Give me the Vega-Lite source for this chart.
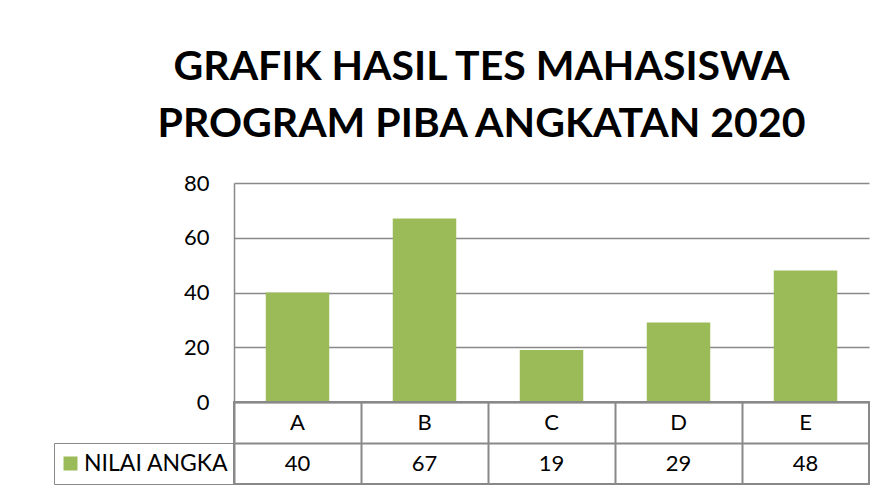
{
  "$schema": "https://vega.github.io/schema/vega-lite/v6.json",
  "autosize": {"type": "pad"},
  "padding": {"left": 53, "top": 47, "right": 0, "bottom": 0},
  "background": "white",
  "title": {
    "text": ["GRAFIK HASIL TES MAHASISWA", "PROGRAM PIBA ANGKATAN 2020"],
    "font": "Lato",
    "fontSize": 41,
    "fontWeight": "bold",
    "color": "#000000",
    "anchor": "middle",
    "frame": "group",
    "lineHeight": 57,
    "dx": -70,
    "offset": 26
  },
  "data": {
    "values": [
      {"kategori": "A", "nilai": 40, "seri": "NILAI ANGKA"},
      {"kategori": "B", "nilai": 67, "seri": "NILAI ANGKA"},
      {"kategori": "C", "nilai": 19, "seri": "NILAI ANGKA"},
      {"kategori": "D", "nilai": 29, "seri": "NILAI ANGKA"},
      {"kategori": "E", "nilai": 48, "seri": "NILAI ANGKA"}
    ]
  },
  "spacing": 0,
  "bounds": "flush",
  "resolve": {"scale": {"color": "independent"}, "legend": {"color": "independent"}},
  "config": {
    "view": {"stroke": null},
    "font": "Lato",
    "axis": {"labelFont": "Lato", "labelColor": "#000000", "labelFontSize": 22}
  },
  "vconcat": [
    {
      "width": 635,
      "height": 219,
      "mark": {"type": "bar"},
      "encoding": {
        "x": {
          "field": "kategori",
          "type": "nominal",
          "scale": {"paddingInner": 0.5, "paddingOuter": 0.25},
          "axis": null
        },
        "y": {
          "field": "nilai",
          "type": "quantitative",
          "scale": {"domain": [0, 80], "nice": false},
          "axis": {
            "values": [0, 20, 40, 60, 80],
            "title": null,
            "grid": true,
            "gridColor": "#898989",
            "gridWidth": 1.5,
            "domain": true,
            "domainColor": "#898989",
            "domainWidth": 1.5,
            "ticks": false,
            "labelPadding": 25
          }
        },
        "color": {
          "field": "seri",
          "type": "nominal",
          "scale": {"range": ["#9BBB59"]},
          "legend": {
            "orient": "none",
            "legendX": -180,
            "legendY": 260,
            "title": null,
            "strokeColor": "#898989",
            "padding": 5,
            "symbolType": "square",
            "symbolSize": 196,
            "symbolStrokeWidth": 0,
            "labelFont": "Lato",
            "labelFontSize": 23,
            "labelColor": "#000000",
            "labelOffset": 2,
            "clipHeight": 31
          }
        }
      }
    },
    {
      "width": 635,
      "height": 82,
      "view": {"stroke": "#898989", "strokeWidth": 2},
      "encoding": {
        "x": {
          "field": "kategori",
          "type": "nominal",
          "scale": {"type": "band", "paddingInner": 0, "paddingOuter": 0},
          "axis": {
            "title": null,
            "labels": false,
            "ticks": false,
            "domain": false,
            "grid": true,
            "tickBand": "extent",
            "gridColor": "#898989",
            "gridWidth": 2
          }
        }
      },
      "layer": [
        {
          "mark": {"type": "text", "font": "Lato", "fontSize": 22, "color": "#000000"},
          "encoding": {
            "y": {
              "datum": "kategori",
              "type": "nominal",
              "scale": {"type": "band", "domain": ["kategori", "nilai"], "paddingInner": 0, "paddingOuter": 0},
              "axis": {
                "title": null,
                "labels": false,
                "ticks": false,
                "domain": false,
                "grid": true,
                "tickBand": "extent",
                "gridColor": "#898989",
                "gridWidth": 2
              }
            },
            "text": {"field": "kategori"}
          }
        },
        {
          "mark": {"type": "text", "font": "Lato", "fontSize": 22, "color": "#000000"},
          "encoding": {
            "y": {"datum": "nilai", "type": "nominal"},
            "text": {"field": "nilai"}
          }
        }
      ]
    }
  ]
}
